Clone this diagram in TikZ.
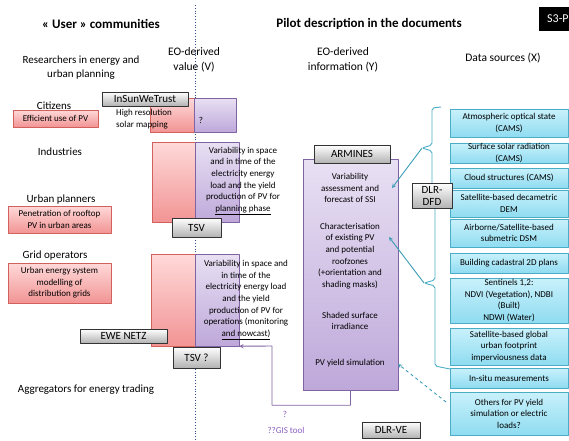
\documentclass[tikz,border=0pt]{standalone}
\usepackage{fontspec}
\setmainfont{Carlito}
\definecolor{sepblue}{HTML}{2F4F8F}
\definecolor{tealline}{HTML}{4BACC6}
\definecolor{tealdark}{HTML}{3A9BB5}
\definecolor{cyantop}{HTML}{C9F1FB}
\definecolor{cyanbot}{HTML}{8FDCF1}
\definecolor{redline}{HTML}{D2605C}
\definecolor{redtop}{HTML}{FFD9D9}
\definecolor{redbot}{HTML}{F29494}
\definecolor{purline}{HTML}{8064A2}
\definecolor{purtop}{HTML}{E8E0F3}
\definecolor{purbot}{HTML}{BEA8DA}
\definecolor{purtext}{HTML}{8A5CC0}
\tikzset{
  titletext/.style={font=\fontsize{13}{15}\selectfont\bfseries, inner sep=0},
  headtext/.style={font=\fontsize{11.5}{15}\selectfont, align=center, inner sep=0},
  grouptext/.style={font=\fontsize{11}{14}\selectfont, align=center, inner sep=0},
  boxtext/.style={font=\fontsize{9}{11.6}\selectfont, align=center, inner sep=0},
  redbox/.style={draw=redline, top color=redtop, bottom color=redbot, boxtext},
  purbox/.style={draw=purline, top color=purtop, bottom color=purbot, boxtext},
  cyanbox/.style={draw=tealline, top color=cyantop, bottom color=cyanbot, boxtext},
  graybox/.style={draw=black!80, line width=0.8pt, top color=white, bottom color=black!30,
    font=\fontsize{11}{12}\selectfont, align=center, inner sep=0},
  braceline/.style={tealline, line width=0.9pt, rounded corners=2},
  tealarrow/.style={->, tealdark, line width=0.9pt}
}
\begin{document}
\begin{tikzpicture}[x=1pt,y=-1pt,line join=round,>=stealth]
			\useasboundingbox (0,0) rectangle (569,440);
			\draw[dotted,thick,sepblue] (195,5) -- (195,440);
			% headings
			\node[titletext] (usercom) at (101,24) {« User » communities};
			\node[titletext] (pilot) at (369,24) {Pilot description in the documents};
			\node[fill=black, text=white, font=\fontsize{12}{13}\selectfont, anchor=west, minimum height=24, inner sep=0, text width=40, inner xsep=8] (sthree) at (539,19) {S3-P};
			\node[headtext] (eoval) at (194,59.5) {EO-derived\\value (V)};
			\node[headtext] (eoinfo) at (343,59.5) {EO-derived\\information (Y)};
			\node[headtext] (datasrc) at (503,58) {Data sources (X)};
			% user communities
			\node[grouptext] (research) at (81,68) {Researchers in energy and\\urban planning};
			\node[grouptext] (citizens) at (54,106) {Citizens};
			\node[grouptext] (industries) at (60,152) {Industries};
			\node[grouptext] (urbanpl) at (61,200) {Urban planners};
			\node[grouptext] (gridop) at (55,256) {Grid operators};
			\node[grouptext] (aggreg) at (86,390) {Aggregators for energy trading};
			\node[redbox, minimum width=85, minimum height=17] (effpv) at (55.5,118.5) {Efficient use of PV};
			\node[redbox, minimum width=103, minimum height=27] (penet) at (59.5,219.5) {Penetration of rooftop\\PV in urban areas};
			\node[redbox, minimum width=103, minimum height=40] (urbmod) at (59.5,283) {Urban energy system\\modelling of\\distribution grids};
			% EO-derived value
			\node[redbox, minimum width=44, minimum height=34] (valred1) at (172,115) {};
			\node[purbox, minimum width=42, minimum height=34] (valpur1) at (215,115) {};
			\node[redbox, minimum width=43, minimum height=80] (valred2) at (173.5,182) {};
			\node[purbox, minimum width=44, minimum height=80] (valpur2) at (217,182) {};
			\node[redbox, minimum width=44, minimum height=92] (valred3) at (173,300) {};
			\node[purbox, minimum width=44, minimum height=92] (valpur3) at (217,300) {};
			\node[boxtext, align=left, anchor=west] (hires) at (116,119) {High resolution\\solar mapping};
			\node[boxtext] (qone) at (201,120) {?};
			\node[boxtext] (varplan) at (243,181) {Variability in space\\and in time of the\\electricity energy\\load and the yield\\production of PV for\\\underline{planning phase}};
			\node[boxtext] (varoper) at (246,300) {Variability in space and\\in time of the\\electricity energy load\\and the yield\\production of PV for\\operations (monitoring\\\underline{and nowcast)}};
			\node[graybox, minimum width=86, minimum height=14] (insun) at (145,99) {InSunWeTrust};
			\node[graybox, minimum width=49, minimum height=19] (tsv) at (196.5,227.5) {TSV};
			\node[graybox, minimum width=87, minimum height=14] (ewe) at (123.5,336) {EWE NETZ};
			\node[graybox, minimum width=47, minimum height=21] (tsvq) at (196.5,357.5) {TSV ?};
			% EO-derived information
			\node[purbox, minimum width=95, minimum height=231] (armbox) at (350.5,274.5) {};
			\node[graybox, minimum width=76, minimum height=18] (armines) at (352,154) {ARMINES};
			\node[boxtext] (ssi) at (350,188) {Variability\\assessment and\\forecast of SSI};
			\node[boxtext] (charac) at (350,256) {Characterisation\\of existing PV\\and potential\\roofzones\\(+orientation and\\shading masks)};
			\node[boxtext] (shaded) at (350,321) {Shaded surface\\irradiance};
			\node[boxtext] (pvyield) at (350,363) {PV yield simulation};
			% data sources
			\coordinate (ubtip) at (422,148);
			\coordinate (lbtip) at (424,283);
			\draw[braceline] (441,107) -- (432,108) -- (432,145) -- (ubtip) -- (432,151) -- (432,194) -- (441,196);
			\draw[braceline] (446,194) -- (435,197) -- (435,280) -- (lbtip) -- (435,286) -- (435,366) -- (450,369);
			\node[cyanbox, minimum width=118, minimum height=28] (atmos) at (509,123) {Atmospheric optical state\\(CAMS)};
			\node[cyanbox, minimum width=118, minimum height=20] (surf) at (509,153) {Surface solar radiation\\(CAMS)};
			\node[cyanbox, minimum width=118, minimum height=20] (cloud) at (509,178) {Cloud structures (CAMS)};
			\node[cyanbox, minimum width=118, minimum height=27] (satdem) at (509,203.5) {Satellite-based decametric\\DEM};
			\node[cyanbox, minimum width=118, minimum height=28] (airb) at (509,233) {Airborne/Satellite-based\\submetric DSM};
			\node[cyanbox, minimum width=118, minimum height=20] (build) at (509,263) {Building cadastral 2D plans};
			\node[cyanbox, minimum width=118, minimum height=45] (sentin) at (509,300.5) {Sentinels 1,2:\\NDVI (Vegetation), NDBI\\(Built)\\NDWI (Water)};
			\node[cyanbox, minimum width=118, minimum height=37] (global) at (509,346.5) {Satellite-based global\\urban footprint\\imperviousness data};
			\node[cyanbox, minimum width=118, minimum height=20] (insitu) at (509,378) {In-situ measurements};
			\node[cyanbox, minimum width=118, minimum height=43] (others) at (509,413.5) {Others for PV yield\\simulation or electric\\loads?};
			\node[graybox, minimum width=40, minimum height=25] (dlrdfd) at (432,195.5) {DLR-\\DFD};
			\node[graybox, minimum width=58, minimum height=16] (dlrve) at (391,430) {DLR-VE};
			% connectors
			\coordinate (ssiin) at (392,188);
			\coordinate (characin) at (389,237);
			\coordinate (pvin) at (398,364);
			\coordinate (othout) at (446,402);
			\draw[tealarrow] (ubtip) -- (ssiin);
			\draw[tealarrow] (lbtip) -- (characin);
			\draw[tealarrow, dashed] (othout) -- (pvin);
			\draw[->, purline, line width=0.9pt] (armbox.south) -- ++(0,15) -| (272,346) -- (valpur3.south east);
			\node[boxtext, text=purtext] (qgis) at (285,414) {?};
			\node[boxtext, text=purtext] (gistool) at (286,430) {??GIS tool};
		\end{tikzpicture}
\end{document}
